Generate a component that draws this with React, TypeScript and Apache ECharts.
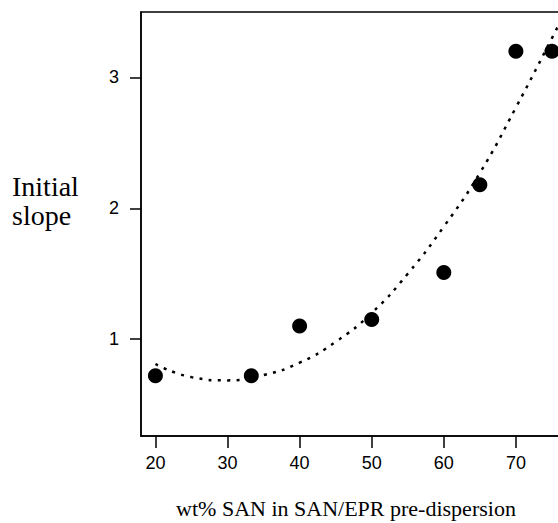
import React, { useEffect, useRef } from "react";
import * as echarts from "echarts";

// Measured data points: wt% SAN vs initial slope
const sanWt = [20, 33.3, 40, 50, 60, 65, 70, 75];
const initialSlope = [0.72, 0.72, 1.1, 1.15, 1.51, 2.18, 3.2, 3.2];

// Dotted fitted curve
const fitX = [20, 25, 30, 35, 40, 45, 50, 55, 60, 65, 70, 75, 76];
const fitY = [0.81, 0.71, 0.685, 0.725, 0.82, 0.98, 1.2, 1.5, 1.86, 2.27, 2.77, 3.3, 3.41];

const xTicks = [20, 30, 40, 50, 60, 70];
const yTicks = [1, 2, 3];

const yTitleLines = ["Initial", "slope"];
const xTitle = "wt% SAN in SAN/EPR pre-dispersion";

export default function App() {
  const ref = useRef<HTMLDivElement>(null);
  useEffect(() => {
    const chart = echarts.init(ref.current!, null, { renderer: "svg" });
    const tickFont = { fontSize: 18, fontFamily: "Liberation Sans", color: "#000" };
    chart.setOption({
      animation: false,
      backgroundColor: "#fff",
      grid: {
        left: 141,
        top: 12,
        right: 12,
        bottom: 87,
        show: true,
        borderColor: "#000",
        borderWidth: 1.5,
      },
      xAxis: {
        type: "value",
        min: 18,
        max: 80,
        axisLine: { show: true, onZero: false, lineStyle: { color: "#000", width: 1.5 } },
        axisTick: { show: true, length: 12, inside: false, customValues: xTicks, lineStyle: { color: "#000", width: 1.5 } },
        axisLabel: { customValues: xTicks, margin: 18, ...tickFont },
        splitLine: { show: false },
      },
      yAxis: {
        type: "value",
        min: 0.26,
        max: 3.5,
        axisLine: { show: true, onZero: false, lineStyle: { color: "#000", width: 1.5 } },
        axisTick: { show: true, length: 11, inside: false, customValues: yTicks, lineStyle: { color: "#000", width: 1.5 } },
        axisLabel: { customValues: yTicks, margin: 22, ...tickFont },
        splitLine: { show: false },
      },
      graphic: [
        {
          type: "text",
          x: 12,
          y: 186,
          style: { text: yTitleLines[0], font: '28px "Liberation Serif"', fill: "#000", align: "left", verticalAlign: "middle" },
        },
        {
          type: "text",
          x: 12,
          y: 215,
          style: { text: yTitleLines[1], font: '28px "Liberation Serif"', fill: "#000", align: "left", verticalAlign: "middle" },
        },
        {
          type: "text",
          x: 346,
          y: 508,
          style: { text: xTitle, font: '22px "Liberation Serif"', fill: "#000", align: "center", verticalAlign: "middle" },
        },
      ],
      series: [
        {
          type: "line",
          data: fitX.map((x, i) => [x, fitY[i]]),
          smooth: true,
          showSymbol: false,
          symbol: "none",
          lineStyle: { color: "#000", width: 2.5, type: [3, 6.3], cap: "butt" },
          z: 2,
        },
        {
          type: "scatter",
          data: sanWt.map((x, i) => [x, initialSlope[i]]),
          symbol: "circle",
          symbolSize: 15,
          itemStyle: { color: "#000", opacity: 1 },
          z: 3,
        },
      ],
    });
    return () => chart.dispose();
  }, []);
  return (
    <div style={{ position: "fixed", left: 0, top: 0, width: 558, height: 523, overflow: "hidden", background: "#fff" }}>
      <div ref={ref} style={{ width: 600, height: 523 }} />
    </div>
  );
}
